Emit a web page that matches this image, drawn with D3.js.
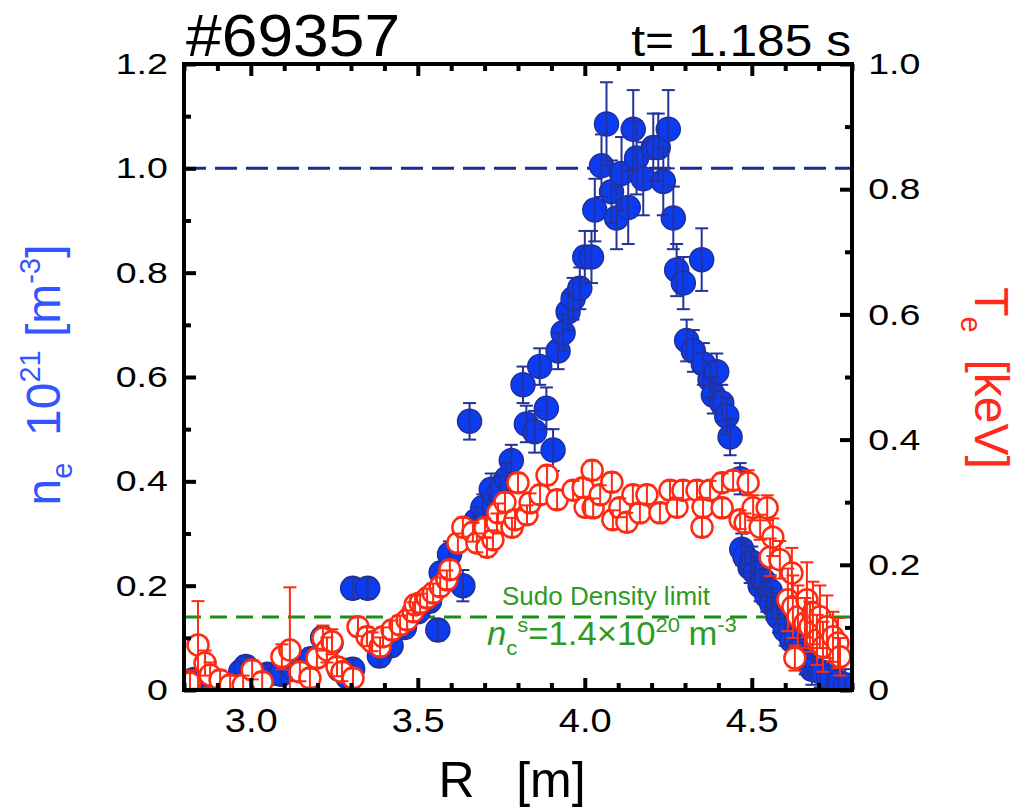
<!DOCTYPE html>
<html>
<head>
<meta charset="utf-8">
<script src="https://cdn.jsdelivr.net/npm/d3@7.9.0/dist/d3.min.js"></script>
<style>
  body { margin: 0; background: #fff; }
  svg { display: block; font-family: "Liberation Sans", Arial, sans-serif; }
</style>
</head>
<body>
<svg id="chart" width="1023" height="810"></svg>
<script>
// electron density n_e (10^21 m^-3) vs R (m)
const neR = [2.83, 2.85, 2.89, 2.97, 2.985, 3.01, 3.05, 3.09, 3.13, 3.18, 3.215, 3.24, 3.265, 3.29,
  3.305, 3.305, 3.35, 3.385, 3.42, 3.46, 3.50, 3.535, 3.56, 3.57, 3.595, 3.635, 3.655, 3.655, 3.675,
  3.695, 3.72, 3.745, 3.765, 3.78, 3.815, 3.825, 3.85, 3.865, 3.885, 3.905, 3.92, 3.935, 3.95, 3.965,
  3.985, 4.00, 4.02, 4.03, 4.05, 4.065, 4.08, 4.095, 4.11, 4.13, 4.145, 4.155, 4.175, 4.205, 4.22,
  4.235, 4.25, 4.265, 4.275, 4.295, 4.35, 4.305, 4.325, 4.355, 4.375, 4.395, 4.385, 4.41, 4.425,
  4.435, 4.465, 4.47, 4.48, 4.495, 4.50, 4.51, 4.525, 4.535, 4.545, 4.555, 4.56, 4.575, 4.58, 4.60,
  4.62, 4.64, 4.66, 4.68, 4.705, 4.73, 4.76, 4.78];
const neVal = [0.02, 0.01, 0.005, 0.035, 0.045, 0.015, 0.03, 0.03, 0.04, 0.06, 0.10, 0.09, 0.04, 0.025,
  0.195, 0.04, 0.195, 0.065, 0.085, 0.12, 0.15, 0.17, 0.115, 0.225, 0.26, 0.20, 0.515, 0.305, 0.325,
  0.35, 0.385, 0.38, 0.405, 0.44, 0.585, 0.51, 0.495, 0.62, 0.54, 0.46, 0.65, 0.685, 0.725, 0.75,
  0.77, 0.83, 0.83, 0.92, 1.005, 1.085, 0.955, 0.905, 0.99, 0.925, 1.075, 1.02, 0.98, 1.04, 1.04,
  0.975, 1.075, 0.905, 0.805, 0.78, 0.825, 0.67, 0.65, 0.625, 0.595, 0.61, 0.565, 0.55, 0.525,
  0.485, 0.405, 0.27, 0.255, 0.235, 0.245, 0.225, 0.20, 0.21, 0.18, 0.19, 0.165, 0.155, 0.14, 0.115,
  0.095, 0.075, 0.06, 0.04, 0.035, 0.025, 0.015, 0.01];
const neErr = [0.02, 0.02, 0.02, 0.02, 0.02, 0.02, 0.02, 0.02, 0.02, 0.02, 0.02, 0.02, 0.02, 0.02,
  0.02, 0.02, 0.02, 0.02, 0.02, 0.02, 0.02, 0.02, 0.02, 0.02, 0.025, 0.03, 0.035, 0.025, 0.025,
  0.025, 0.03, 0.03, 0.03, 0.03, 0.035, 0.035, 0.04, 0.035, 0.04, 0.04, 0.035, 0.035, 0.035, 0.04,
  0.04, 0.05, 0.05, 0.06, 0.06, 0.08, 0.06, 0.06, 0.07, 0.07, 0.075, 0.07, 0.07, 0.065, 0.065,
  0.065, 0.075, 0.06, 0.05, 0.05, 0.06, 0.04, 0.04, 0.04, 0.035, 0.035, 0.035, 0.035, 0.035,
  0.035, 0.03, 0.03, 0.03, 0.03, 0.03, 0.03, 0.03, 0.03, 0.03, 0.03, 0.03, 0.03, 0.03, 0.03,
  0.03, 0.03, 0.03, 0.03, 0.03, 0.03, 0.03, 0.03];

// electron temperature T_e (keV) vs R (m)
const teR = [2.818, 2.842, 2.863, 2.878, 2.908, 2.938, 2.977, 3.004, 3.034, 3.093, 3.117, 3.147,
  3.177, 3.198, 3.216, 3.228, 3.243, 3.258, 3.273, 3.306, 3.321, 3.348, 3.363, 3.387, 3.396, 3.423,
  3.447, 3.468, 3.486, 3.492, 3.507, 3.528, 3.546, 3.567, 3.587, 3.596, 3.62, 3.635, 3.665, 3.677,
  3.701, 3.707, 3.725, 3.737, 3.74, 3.761, 3.782, 3.791, 3.80, 3.827, 3.836, 3.866, 3.887, 3.917,
  3.965, 3.995, 4.001, 4.022, 4.025, 4.046, 4.081, 4.084, 4.105, 4.126, 4.144, 4.165, 4.186, 4.225,
  4.255, 4.276, 4.294, 4.336, 4.351, 4.354, 4.375, 4.411, 4.411, 4.444, 4.465, 4.48, 4.489, 4.504,
  4.525, 4.546, 4.555, 4.563, 4.584, 4.608, 4.62, 4.623, 4.629, 4.638, 4.659, 4.665, 4.674, 4.683,
  4.695, 4.704, 4.713, 4.725, 4.743, 4.758, 4.764];
const teVal = [0.011, 0.072, 0.043, 0.024, 0.016, 0.008, 0.008, 0.032, 0.013, 0.053, 0.064, 0.029,
  0.019, 0.051, 0.083, 0.064, 0.077, 0.037, 0.029, 0.019, 0.101, 0.085, 0.077, 0.069, 0.085, 0.096,
  0.104, 0.112, 0.125, 0.136, 0.139, 0.147, 0.155, 0.165, 0.176, 0.192, 0.235, 0.26, 0.252, 0.235,
  0.259, 0.228, 0.24, 0.267, 0.283, 0.30, 0.26, 0.272, 0.331, 0.28, 0.299, 0.312, 0.343, 0.304,
  0.319, 0.323, 0.292, 0.351, 0.291, 0.312, 0.332, 0.272, 0.291, 0.268, 0.312, 0.283, 0.312, 0.283,
  0.319, 0.292, 0.319, 0.319, 0.26, 0.292, 0.319, 0.331, 0.291, 0.335, 0.272, 0.267, 0.331, 0.291,
  0.26, 0.291, 0.212, 0.244, 0.208, 0.144, 0.187, 0.133, 0.051, 0.117, 0.107, 0.144, 0.101, 0.123,
  0.08, 0.117, 0.069, 0.101, 0.085, 0.075, 0.053];
const teErr = [0.02, 0.07, 0.02, 0.02, 0.015, 0.015, 0.015, 0.015, 0.015, 0.02, 0.10, 0.015,
  0.015, 0.015, 0.02, 0.02, 0.02, 0.015, 0.015, 0.015, 0.015, 0.015, 0.015, 0.015, 0.015, 0.015,
  0.015, 0.015, 0.015, 0.015, 0.015, 0.015, 0.015, 0.015, 0.015, 0.015, 0.015, 0.015, 0.015, 0.015,
  0.015, 0.015, 0.015, 0.015, 0.015, 0.015, 0.015, 0.015, 0.015, 0.015, 0.015, 0.015, 0.015, 0.015,
  0.015, 0.015, 0.015, 0.015, 0.015, 0.015, 0.015, 0.015, 0.015, 0.015, 0.015, 0.015, 0.015, 0.015,
  0.015, 0.015, 0.015, 0.015, 0.015, 0.015, 0.015, 0.015, 0.015, 0.015, 0.015, 0.015, 0.02, 0.02,
  0.02, 0.02, 0.03, 0.03, 0.03, 0.05, 0.04, 0.05, 0.02, 0.05, 0.04, 0.06, 0.04, 0.05,
  0.04, 0.05, 0.04, 0.05, 0.04, 0.04, 0.03];

const xMajor = [3.0, 3.5, 4.0, 4.5];
const neTicks = [0, 0.2, 0.4, 0.6, 0.8, 1.0, 1.2];
const teTicks = [0, 0.2, 0.4, 0.6, 0.8, 1.0];
const greenwaldLevel = 1.0;   // blue dashed line
const sudoLevel = 0.14;       // 1.4e20 m^-3

const svg = d3.select("#chart");
const pLeft = 184, pRight = 852, pTop = 64, pBottom = 690;

const x = d3.scaleLinear().domain([2.8, 4.8]).range([pLeft, pRight]);
const yNe = d3.scaleLinear().domain([0, 1.2]).range([pBottom, pTop]);
const yTe = d3.scaleLinear().domain([0, 1]).range([pBottom, pTop]);

const neData = neR.map((r, i) => ({ r: r, v: neVal[i], e: neErr[i] }));
const teData = teR.map((r, i) => ({ r: r, v: teVal[i], e: teErr[i] }));

svg.append("clipPath").attr("id", "plotClip")
  .append("rect").attr("x", pLeft).attr("y", pTop)
  .attr("width", pRight - pLeft).attr("height", pBottom - pTop);

const plot = svg.append("g").attr("clip-path", "url(#plotClip)");

// reference lines
plot.append("line")
  .attr("x1", pLeft).attr("x2", pRight)
  .attr("y1", yNe(greenwaldLevel)).attr("y2", yNe(greenwaldLevel))
  .attr("stroke", "#1c2b93").attr("stroke-width", 3)
  .attr("stroke-dasharray", "22,9");

plot.append("line")
  .attr("x1", pLeft).attr("x2", pRight)
  .attr("y1", yNe(sudoLevel)).attr("y2", yNe(sudoLevel))
  .attr("stroke", "#179017").attr("stroke-width", 3)
  .attr("stroke-dasharray", "17,9");

function drawErrorBars(g, data, y, color) {
  const cap = 6.5;
  data.forEach(d => {
    const cx = x(d.r), y1 = y(d.v - d.e), y2 = y(d.v + d.e);
    g.append("line").attr("x1", cx).attr("x2", cx).attr("y1", y1).attr("y2", y2)
      .attr("stroke", color).attr("stroke-width", 2);
    [y1, y2].forEach(yy => {
      g.append("line").attr("x1", cx - cap).attr("x2", cx + cap).attr("y1", yy).attr("y2", yy)
        .attr("stroke", color).attr("stroke-width", 2);
    });
  });
}

// n_e: filled blue circles
const neG = plot.append("g");
neG.selectAll("circle").data(neData).join("circle")
  .attr("cx", d => x(d.r)).attr("cy", d => yNe(d.v)).attr("r", 12)
  .attr("fill", "#0b3cf2").attr("stroke", "#1f2f9a").attr("stroke-width", 1.5);
drawErrorBars(neG, neData, yNe, "#24339b");

// T_e: open red circles
const teG = plot.append("g");
teG.selectAll("circle").data(teData).join("circle")
  .attr("cx", d => x(d.r)).attr("cy", d => yTe(d.v)).attr("r", 10.5)
  .attr("fill", "#fff").attr("stroke", "#ff2a12").attr("stroke-width", 2.5);
drawErrorBars(teG, teData, yTe, "#ff2a12");

// axes with inward ticks
function styleAxis(g, fontSize, sx) {
  g.select(".domain").remove();
  g.selectAll(".tick line").attr("stroke", "#000").attr("stroke-width", 4);
  g.selectAll(".tick text")
    .attr("font-size", fontSize).attr("fill", "#000")
    .attr("font-family", "Liberation Sans, Arial, sans-serif")
    .attr("transform", `scale(${sx},1)`);
}
const fmt = d => d === 0 ? "0" : d3.format(".1f")(d);
const xMinor = d3.range(28, 49).map(i => i / 10).filter(v => !xMajor.some(m => Math.abs(m - v) < 1e-6));
const neMinor = d3.range(1, 12, 2).map(i => i / 10);
const teMinor = d3.range(1, 10, 2).map(i => i / 10);

const gBottom = svg.append("g").attr("transform", `translate(0,${pBottom})`)
  .call(d3.axisBottom(x).tickValues(xMajor).tickSize(-12).tickPadding(18).tickFormat(d3.format(".1f")));
styleAxis(gBottom, 34, 1.12);
const gBottomMinor = svg.append("g").attr("transform", `translate(0,${pBottom})`)
  .call(d3.axisBottom(x).tickValues(xMinor).tickSize(-7).tickFormat(""));
styleAxis(gBottomMinor, 0, 1);

const gTop = svg.append("g").attr("transform", `translate(0,${pTop})`)
  .call(d3.axisTop(x).tickValues(xMajor).tickSize(-12).tickFormat(""));
styleAxis(gTop, 0, 1);
const gTopMinor = svg.append("g").attr("transform", `translate(0,${pTop})`)
  .call(d3.axisTop(x).tickValues(xMinor).tickSize(-7).tickFormat(""));
styleAxis(gTopMinor, 0, 1);

const gLeft = svg.append("g").attr("transform", `translate(${pLeft},0)`)
  .call(d3.axisLeft(yNe).tickValues(neTicks).tickSize(-12).tickPadding(13).tickFormat(fmt));
styleAxis(gLeft, 30, 1.25);
const gLeftMinor = svg.append("g").attr("transform", `translate(${pLeft},0)`)
  .call(d3.axisLeft(yNe).tickValues(neMinor).tickSize(-7).tickFormat(""));
styleAxis(gLeftMinor, 0, 1);

const gRight = svg.append("g").attr("transform", `translate(${pRight},0)`)
  .call(d3.axisRight(yTe).tickValues(teTicks).tickSize(-12).tickPadding(13).tickFormat(fmt));
styleAxis(gRight, 30, 1.25);
const gRightMinor = svg.append("g").attr("transform", `translate(${pRight},0)`)
  .call(d3.axisRight(yTe).tickValues(teMinor).tickSize(-7).tickFormat(""));
styleAxis(gRightMinor, 0, 1);

// frame
svg.append("rect").attr("x", pLeft).attr("y", pTop)
  .attr("width", pRight - pLeft).attr("height", pBottom - pTop)
  .attr("fill", "none").attr("stroke", "#000").attr("stroke-width", 4);

// titles
svg.append("text").attr("transform", "translate(186,56) scale(1.07,1)")
  .attr("font-size", 60).attr("fill", "#000").text("#69357");
svg.append("text").attr("transform", "translate(851,56) scale(1.13,1)").attr("text-anchor", "end")
  .attr("font-size", 44).attr("fill", "#000").text("t= 1.185 s");

// x label
svg.append("text").attr("x", 512).attr("y", 797).attr("text-anchor", "middle")
  .attr("font-size", 50).attr("fill", "#000")
  .attr("style", "white-space: pre").text("R   [m]");

// left label
const ly = svg.append("text").attr("transform", "translate(60,375) rotate(-90)")
  .attr("text-anchor", "middle").attr("font-size", 48).attr("fill", "#3355ff")
  .attr("style", "white-space: pre");
ly.append("tspan").text("n");
ly.append("tspan").attr("font-size", 29).attr("dy", 12).text("e");
ly.append("tspan").attr("dy", -12).text("  10");
ly.append("tspan").attr("font-size", 29).attr("dy", -20).text("21");
ly.append("tspan").attr("dy", 20).text(" [m");
ly.append("tspan").attr("font-size", 29).attr("dy", -20).text("-3");
ly.append("tspan").attr("dy", 20).text("]");

// right label
const ry = svg.append("text").attr("transform", "translate(975,378) rotate(90)")
  .attr("text-anchor", "middle").attr("font-size", 48).attr("fill", "#ff2a1a")
  .attr("style", "white-space: pre");
ry.append("tspan").text("T");
ry.append("tspan").attr("font-size", 29).attr("dy", 14).text("e");
ry.append("tspan").attr("dy", -14).text("  [keV]");

// Sudo limit annotation
svg.append("text").attr("x", 502).attr("y", 605)
  .attr("font-size", 26).attr("fill", "#2e9a22").text("Sudo Density limit");
const ann = svg.append("text").attr("transform", "translate(487,645) scale(1.05,1)")
  .attr("font-size", 33).attr("fill", "#2e9a22");
ann.append("tspan").attr("font-style", "italic").text("n");
ann.append("tspan").attr("font-size", 21).attr("dy", 10).text("c");
ann.append("tspan").attr("font-size", 21).attr("dy", -23).text("s");
ann.append("tspan").attr("dy", 13).text("=1.4\u00d710");
ann.append("tspan").attr("font-size", 21).attr("dy", -13).text("20");
ann.append("tspan").attr("dy", 13).attr("dx", 8).text("m");
ann.append("tspan").attr("font-size", 21).attr("dy", -13).text("-3");
</script>
</body>
</html>
